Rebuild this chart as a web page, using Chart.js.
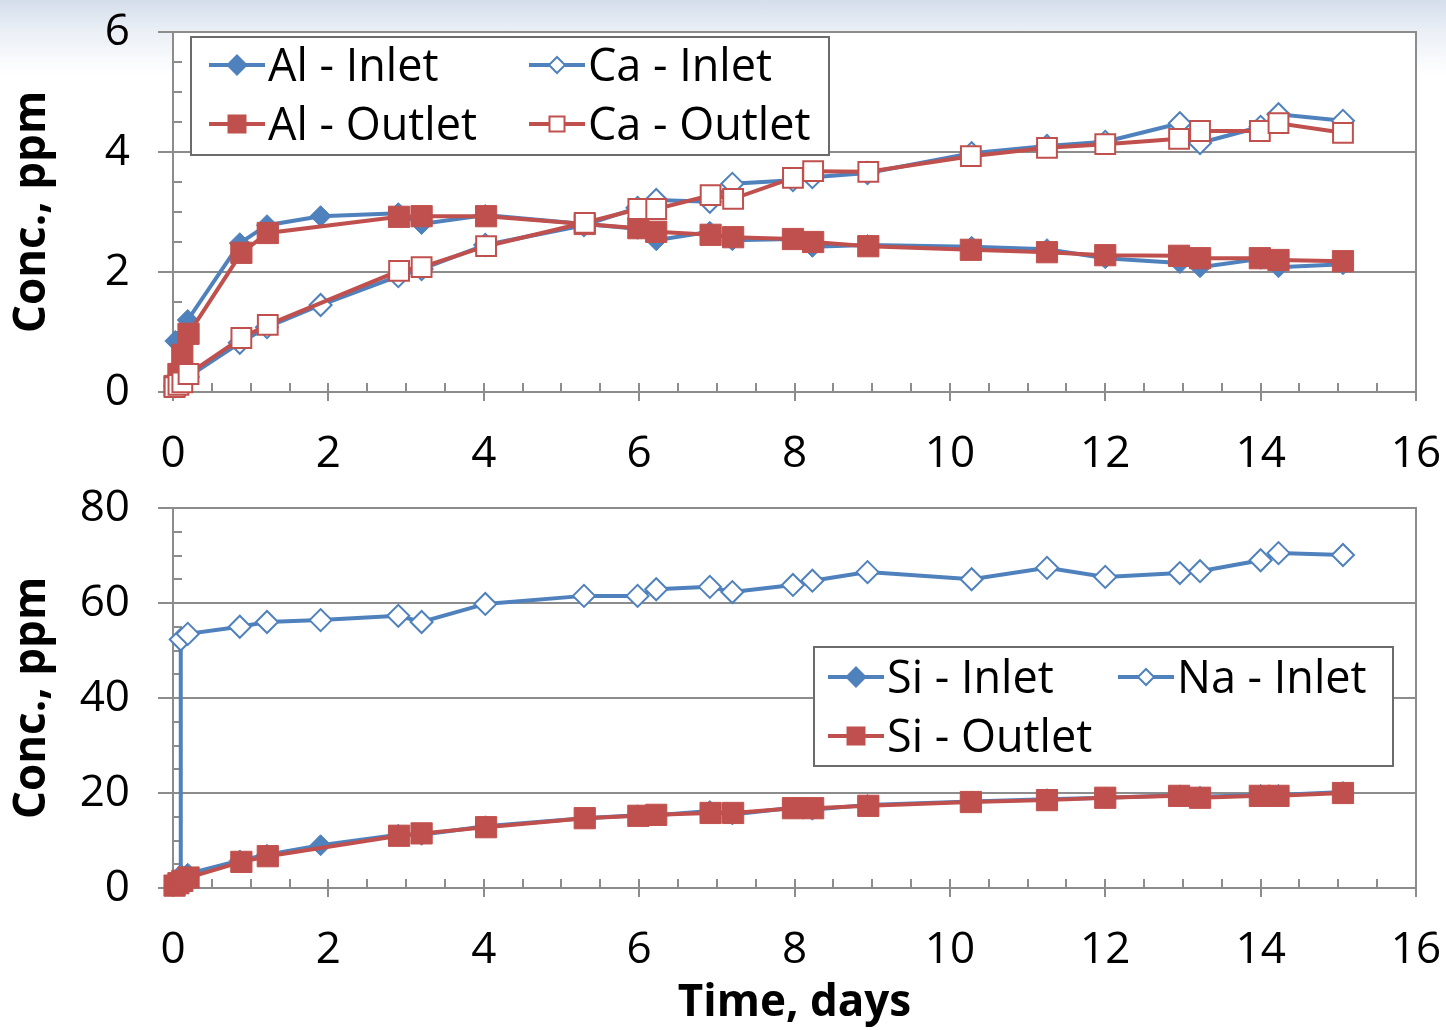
<!DOCTYPE html>
<html>
<head>
<meta charset="utf-8">
<script src="https://cdn.jsdelivr.net/npm/chart.js@4.4.0/dist/chart.umd.min.js"></script>
<style>
html, body { margin: 0; padding: 0; }
body {
  width: 1446px; height: 1030px; position: relative; overflow: hidden;
  background: linear-gradient(#d4deeb 0px, #eaeff6 30px, #ffffff 75px);
  font-family: 'Open Sans', sans-serif;
}
canvas { position: absolute; left: 0; }
#c1 { top: 0; }
#c2 { top: 480px; }
.legend { position: absolute; background: #fff; border: 2px solid #6b6b6b; box-sizing: border-box; }
.item { position: absolute; display: flex; align-items: center; height: 50px;
  font-size: 45px; line-height: 1; color: #000; white-space: nowrap; }
.item svg { margin-right: 3px; flex: none; }
.item span { position: relative; top: -2px; }
</style>
</head>
<body>
<canvas id="c1" width="1446" height="480"></canvas>
<canvas id="c2" width="1446" height="550"></canvas>
<div id="legend1" class="legend" style="left:190px;top:36px;width:640px;height:120px"></div>
<div id="legend2" class="legend" style="left:813px;top:646px;width:581px;height:121px"></div>
<script>
// days for the inlet samples and for the outlet samples
const inletDays = [0.03, 0.19, 0.86, 1.21, 1.9, 2.9, 3.2, 4.02, 5.29, 5.98, 6.22, 6.91, 7.2, 7.98, 8.23, 8.94, 10.28, 11.25, 12.0, 12.96, 13.22, 14.0, 14.23, 15.06];
const outletDays = [0.02, 0.07, 0.12, 0.2, 0.88, 1.22, 2.91, 3.2, 4.03, 5.3, 5.99, 6.22, 6.92, 7.21, 7.98, 8.24, 8.95, 10.27, 11.25, 12.0, 12.95, 13.22, 13.99, 14.23, 15.06];
const naDays = [0.1, 0.1, 0.19, 0.86, 1.21, 1.9, 2.9, 3.2, 4.02, 5.29, 5.98, 6.22, 6.91, 7.2, 7.98, 8.23, 8.94, 10.28, 11.25, 12.0, 12.96, 13.22, 14.0, 14.23, 15.06];

// top panel, ppm
const alInlet = [0.85, 1.2, 2.48, 2.78, 2.93, 2.98, 2.8, 2.95, 2.8, 2.72, 2.53, 2.67, 2.53, 2.55, 2.42, 2.45, 2.42, 2.38, 2.23, 2.15, 2.08, 2.22, 2.08, 2.13];
const alOutlet = [0.1, 0.3, 0.62, 0.97, 2.32, 2.65, 2.92, 2.93, 2.93, 2.8, 2.73, 2.67, 2.62, 2.58, 2.55, 2.5, 2.43, 2.37, 2.33, 2.28, 2.27, 2.23, 2.23, 2.2, 2.18];
const caInlet = [0.1, 0.25, 0.82, 1.08, 1.45, 1.93, 2.05, 2.45, 2.78, 3.07, 3.2, 3.17, 3.47, 3.53, 3.58, 3.65, 3.98, 4.1, 4.17, 4.48, 4.15, 4.42, 4.63, 4.52];
const caOutlet = [0.08, 0.12, 0.16, 0.3, 0.9, 1.12, 2.02, 2.08, 2.43, 2.82, 3.05, 3.05, 3.28, 3.22, 3.57, 3.68, 3.67, 3.93, 4.07, 4.13, 4.22, 4.35, 4.35, 4.48, 4.32];

// bottom panel, ppm
const siInlet = [1.5, 3, 5.8, 7, 9, 11.2, 11.2, 13, 14.7, 15.3, 15.3, 16.2, 15.5, 16.9, 16.5, 17.5, 18.2, 18.7, 19, 19.5, 19.2, 19.6, 19.6, 20.2];
const siOutlet = [0.5, 1, 1.5, 2.2, 5.5, 6.7, 11, 11.5, 12.8, 14.7, 15.2, 15.4, 15.8, 15.8, 16.8, 16.8, 17.3, 18.1, 18.5, 19, 19.4, 19, 19.4, 19.4, 20];
const naInlet = [2.5, 52.3, 53.5, 55, 56, 56.4, 57.3, 56, 59.8, 61.5, 61.5, 62.9, 63.4, 62.3, 63.8, 64.7, 66.5, 65, 67.4, 65.5, 66.3, 66.7, 69, 70.5, 70.1];

const blue = '#4f81bd';
const red = '#c0504d';

function pts(xs, ys) {
  return xs.map((x, i) => ({ x: x, y: ys[i] }));
}

// marker looks, shared by chart and legend
const looks = {
  inletFilled: { pointStyle: 'rectRot', pointRadius: 10.5, pointBackgroundColor: blue, pointBorderColor: blue, pointBorderWidth: 1, borderColor: blue },
  outletFilled: { pointStyle: 'rect', pointRadius: 15, pointBackgroundColor: red, pointBorderColor: red, pointBorderWidth: 1, borderColor: red },
  inletOpen: { pointStyle: 'rectRot', pointRadius: 11, pointBackgroundColor: '#fff', pointBorderColor: blue, pointBorderWidth: 2, borderColor: blue },
  outletOpen: { pointStyle: 'rect', pointRadius: 14, pointBackgroundColor: '#fff', pointBorderColor: red, pointBorderWidth: 2, borderColor: red }
};

function ds(label, data, look, order) {
  return Object.assign({
    label: label, data: data, order: order, look: look,
    borderWidth: 4, tension: 0, clip: false, fill: false
  }, looks[look]);
}

Chart.defaults.font.family = "'Open Sans', sans-serif";
Chart.defaults.color = '#000';

const frame = {
  id: 'frame',
  beforeDraw(chart) {
    const a = chart.chartArea;
    const ctx = chart.ctx;
    ctx.save();
    ctx.fillStyle = '#fff';
    ctx.fillRect(a.left, a.top, a.right - a.left, a.bottom - a.top);
    ctx.restore();
  },
  beforeDatasetsDraw(chart, args, o) {
    const ctx = chart.ctx;
    const a = chart.chartArea;
    const x = chart.scales.x, y = chart.scales.y;
    const isMajor = (v, step) => Math.abs(v / step - Math.round(v / step)) < 1e-6;
    ctx.save();
    ctx.strokeStyle = '#8c8c8c';
    ctx.lineWidth = 2;
    ctx.beginPath();
    for (let v = x.min; v <= x.max + 1e-9; v += o.xMinor) {
      const px = Math.round(x.getPixelForValue(v));
      ctx.moveTo(px, a.bottom - 9);
      ctx.lineTo(px, isMajor(v, o.xMajor) ? a.bottom + 9 : a.bottom);
    }
    for (let v = y.min; v <= y.max + 1e-9; v += o.yMinor) {
      const py = Math.round(y.getPixelForValue(v));
      ctx.moveTo(isMajor(v, o.yMajor) ? a.left - 15 : a.left, py);
      ctx.lineTo(a.left + 9, py);
    }
    ctx.stroke();
    ctx.strokeRect(a.left, a.top, a.right - a.left, a.bottom - a.top);
    ctx.restore();
  }
};

function noOverflow(s) {
  s.paddingTop = 0;
  s.paddingBottom = 0;
  s.paddingLeft = 0;
  s.paddingRight = 0;
}

function options(yMax, yStep, yMinor, axisHeight, padTop, xTitle) {
  return {
    responsive: false,
    animation: false,
    layout: { padding: { top: padTop, right: 30, left: 0, bottom: 0 } },
    plugins: {
      legend: { display: false },
      tooltip: { enabled: false },
      frame: { xMinor: 0.5, xMajor: 2, yMinor: yMinor, yMajor: yStep }
    },
    scales: {
      x: {
        type: 'linear', min: 0, max: 16,
        ticks: { stepSize: 2, padding: 36, font: { size: 44 }, color: '#000' },
        grid: { display: false, drawTicks: false },
        border: { display: false },
        title: { display: !!xTitle, text: xTitle || '', font: { size: 44, weight: 'bold' }, color: '#000', padding: { top: 0, bottom: 0 } },
        afterFit(s) { s.height = axisHeight; noOverflow(s); }
      },
      y: {
        min: 0, max: yMax,
        ticks: { stepSize: yStep, padding: 43, font: { size: 44 }, color: '#000' },
        grid: { color: '#8c8c8c', lineWidth: 2, drawTicks: false },
        border: { display: false },
        title: { display: true, text: 'Conc., ppm', font: { size: 44, weight: 'bold' }, color: '#000', padding: { top: 6, bottom: 0 } },
        afterFit(s) { s.width = 173; noOverflow(s); }
      }
    }
  };
}

// legend order is row by row; drawing order follows it (later on top)
const topSets = [
  ds('Al - Inlet', pts(inletDays, alInlet), 'inletFilled', 4),
  ds('Ca - Inlet', pts(inletDays, caInlet), 'inletOpen', 3),
  ds('Al - Outlet', pts(outletDays, alOutlet), 'outletFilled', 2),
  ds('Ca - Outlet', pts(outletDays, caOutlet), 'outletOpen', 1)
];
const bottomSets = [
  ds('Si - Inlet', pts(inletDays, siInlet), 'inletFilled', 3),
  ds('Na - Inlet', pts(naDays, naInlet), 'inletOpen', 2),
  ds('Si - Outlet', pts(outletDays, siOutlet), 'outletFilled', 1)
];

new Chart(document.getElementById('c1'), {
  type: 'line',
  data: { datasets: topSets },
  options: options(6, 2, 0.5, 88, 32, null),
  plugins: [frame]
});
new Chart(document.getElementById('c2'), {
  type: 'line',
  data: { datasets: bottomSets },
  options: options(80, 20, 5, 142, 28, 'Time, days'),
  plugins: [frame]
});

// legends drawn as html boxes
function markerSvg(look) {
  const lk = looks[look];
  const c = lk.borderColor;
  const fill = lk.pointBackgroundColor;
  let m;
  if (lk.pointStyle === 'rectRot') {
    const h = fill === '#fff' ? 8 : 9.5;
    m = '<polygon points="28,' + (15 - h) + ' ' + (28 + h) + ',15 28,' + (15 + h) + ' ' + (28 - h) + ',15" fill="' + fill + '" stroke="' + c + '" stroke-width="2"/>';
  } else {
    const s = fill === '#fff' ? 15 : 18;
    m = '<rect x="' + (28 - s / 2) + '" y="' + (15 - s / 2) + '" width="' + s + '" height="' + s + '" fill="' + fill + '" stroke="' + c + '" stroke-width="' + (fill === '#fff' ? 2 : 1) + '"/>';
  }
  return '<svg width="56" height="30" viewBox="0 0 56 30"><line x1="0" y1="15" x2="56" y2="15" stroke="' + c + '" stroke-width="4"/>' + m + '</svg>';
}

function buildLegend(id, sets, spots) {
  const box = document.getElementById(id);
  sets.forEach((d, i) => {
    const el = document.createElement('div');
    el.className = 'item';
    el.style.left = spots[i][0] + 'px';
    el.style.top = spots[i][1] + 'px';
    el.innerHTML = markerSvg(d.look) + '<span>' + d.label + '</span>';
    box.appendChild(el);
  });
}

buildLegend('legend1', topSets, [[17, 2], [337, 2], [17, 61], [337, 61]]);
buildLegend('legend2', bottomSets, [[13, 4], [303, 4], [13, 63]]);
</script>
</body>
</html>
